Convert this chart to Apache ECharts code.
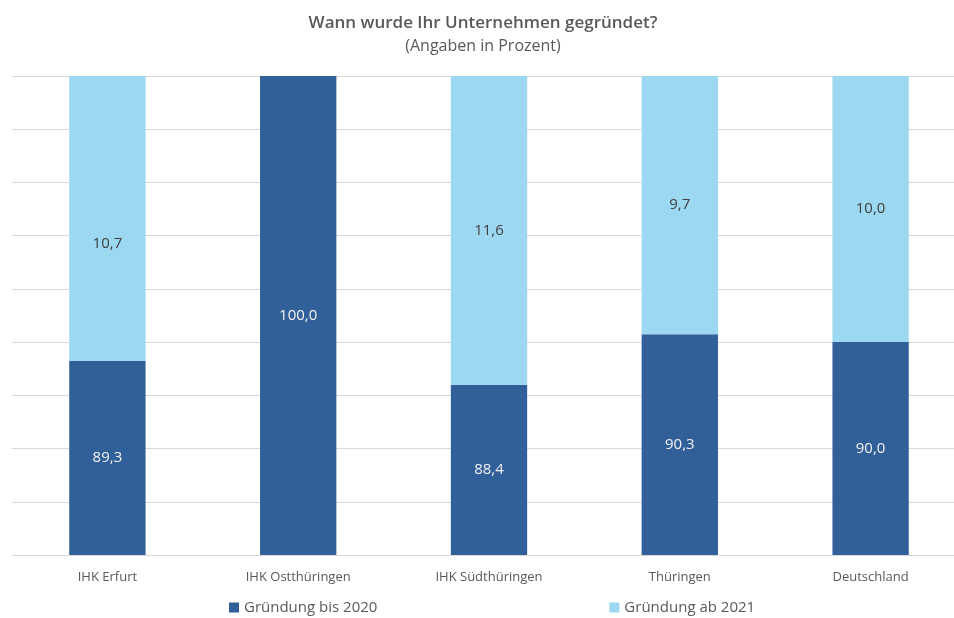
<!DOCTYPE html>
<html><head><meta charset="utf-8">
<script src="https://cdn.jsdelivr.net/npm/echarts@6/dist/echarts.min.js"></script>
<style>html,body{margin:0;padding:0;background:#fff;overflow:hidden}#c{width:966px;height:618px}</style>
</head><body><div id="c"></div>
<script>
const categories = ['IHK Erfurt', 'IHK Ostthüringen', 'IHK Südthüringen', 'Thüringen', 'Deutschland'];
const bis2020 = [89.3, 100.0, 88.4, 90.3, 90.0];
const ab2021 = [10.7, null, 11.6, 9.7, 10.0];
const seriesNames = ['Gründung bis 2020', 'Gründung ab 2021'];
const titleText = 'Wann wurde Ihr Unternehmen gegründet?';
const subtitleText = '(Angaben in Prozent)';

const FONT = 'Open Sans';
const fmt = p => p.value == null ? '' : p.value.toFixed(1).replace('.', ',');
const chart = echarts.init(document.getElementById('c'), null, {renderer: 'canvas'});
chart.setOption({
  animation: false,
  title: {
    text: titleText, subtext: subtitleText, left: 'center', top: 10, itemGap: 6,
    textStyle: {fontFamily: FONT, fontSize: 17, fontWeight: 600, color: '#595959'},
    subtextStyle: {fontFamily: FONT, fontSize: 16, color: '#595959'}
  },
  legend: {
    bottom: -2, left: 224, itemGap: 232, itemWidth: 10, itemHeight: 10,
    icon: 'rect',
    textStyle: {fontFamily: FONT, fontSize: 15, color: '#595959'},
    data: seriesNames
  },
  grid: {left: 12, right: 0, top: 76, bottom: 63, containLabel: false},
  xAxis: {
    type: 'category', data: categories,
    axisLine: {lineStyle: {color: '#d9d9d9'}}, axisTick: {show: false},
    axisLabel: {fontFamily: FONT, fontSize: 13, color: '#595959', margin: 16}
  },
  yAxis: {
    type: 'value', min: 82, max: 100, interval: 2,
    axisLabel: {show: false}, axisLine: {show: false}, axisTick: {show: false},
    splitLine: {lineStyle: {color: '#d9d9d9'}}
  },
  series: [
    {name: seriesNames[0], type: 'bar', stack: 's', data: bis2020, barWidth: '40%',
     itemStyle: {color: '#305f99'},
     label: {show: true, position: 'inside', formatter: fmt, fontFamily: FONT, fontSize: 15, color: '#f2f2f2'}},
    {name: seriesNames[1], type: 'bar', stack: 's', data: ab2021.map((v, i) => i === 0 ? {value: v, label: {offset: [0, 25]}} : v), barWidth: '40%',
     itemStyle: {color: '#9dd8f2'},
     label: {show: true, position: 'inside', formatter: fmt, fontFamily: FONT, fontSize: 15, color: '#404040'}}
  ]
});
</script></body></html>
